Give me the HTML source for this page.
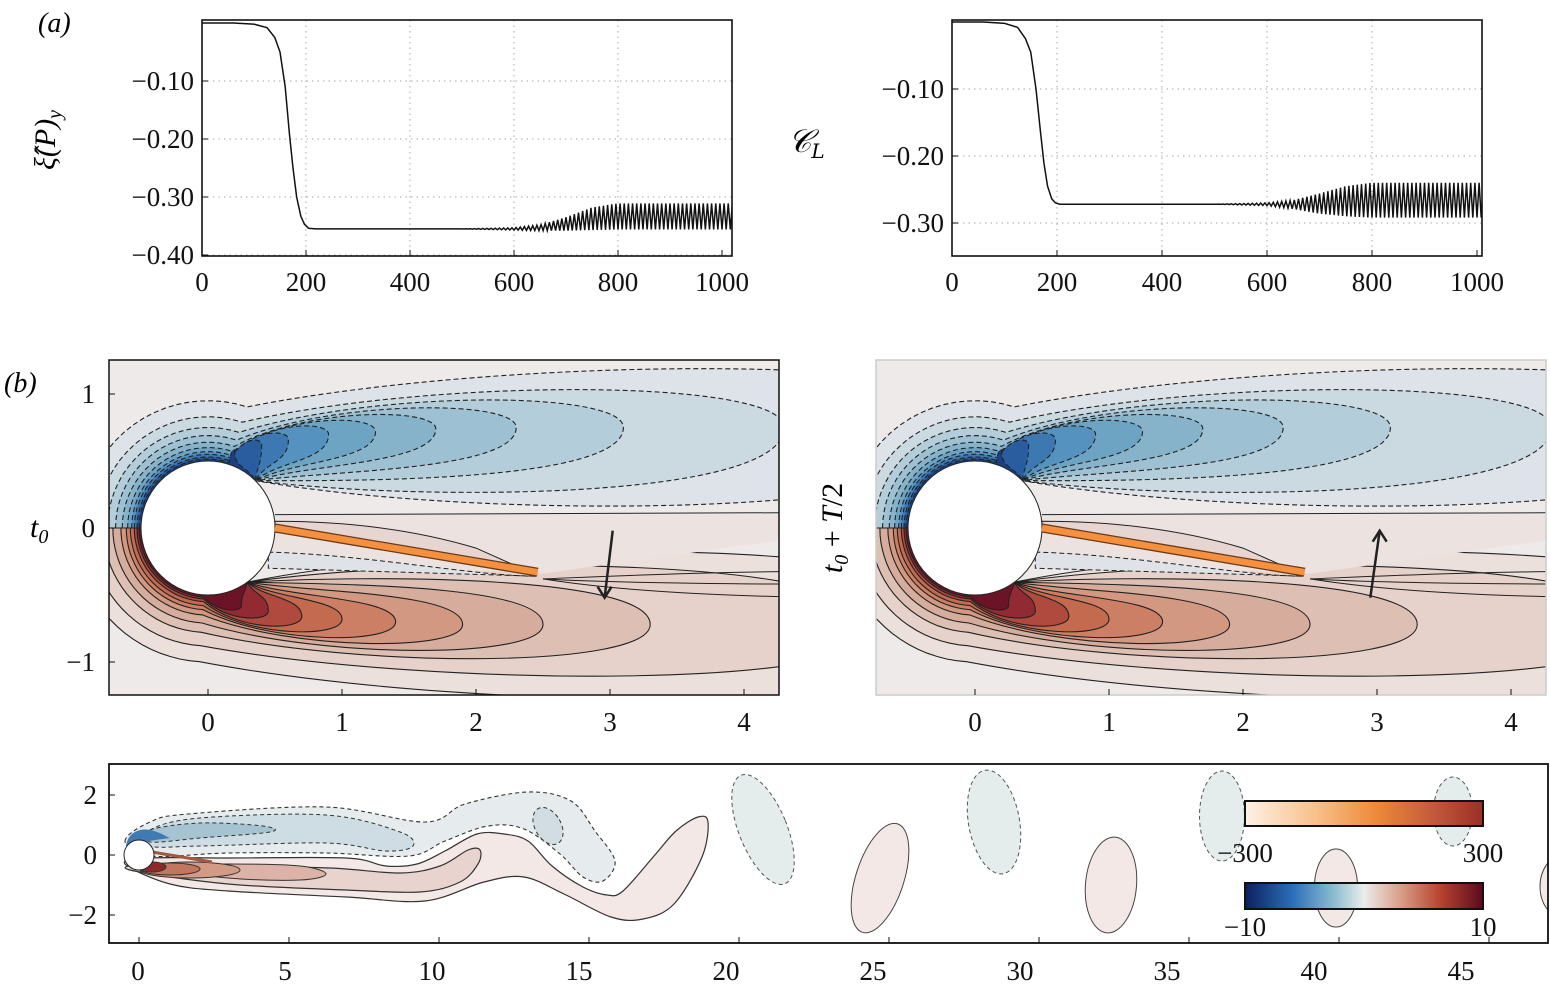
<!DOCTYPE html>
<html><head><meta charset="utf-8"><style>
html,body{margin:0;padding:0;background:#fff;}
svg{display:block;font-family:"Liberation Serif",serif;}
.tick{font-size:27px;fill:#111;}
</style></head><body>
<svg id="fig" width="1550" height="988" viewBox="0 0 1550 988" xmlns="http://www.w3.org/2000/svg">
<defs>
<clipPath id="clipBL"><rect x="109" y="360" width="670" height="335"/></clipPath>
<clipPath id="clipBR"><rect x="876" y="360" width="670" height="335"/></clipPath>
<clipPath id="clipW"><rect x="109" y="764" width="1439" height="179"/></clipPath>
<clipPath id="clipA1"><rect x="202" y="20" width="530" height="236"/></clipPath>
<clipPath id="clipA2"><rect x="952" y="20" width="530" height="236"/></clipPath>
<linearGradient id="cbOrange" x1="0" x2="1"><stop offset="0" stop-color="#fdf1e6"/><stop offset="0.3" stop-color="#f8c08a"/><stop offset="0.55" stop-color="#ee8a3a"/><stop offset="0.8" stop-color="#c1583a"/><stop offset="1" stop-color="#9b2f25"/></linearGradient>
<linearGradient id="cbDiv" x1="0" x2="1"><stop offset="0" stop-color="#0d1f5e"/><stop offset="0.2" stop-color="#2a6fb8"/><stop offset="0.38" stop-color="#8fbfd0"/><stop offset="0.5" stop-color="#ececec"/><stop offset="0.65" stop-color="#d9a08a"/><stop offset="0.82" stop-color="#b7442f"/><stop offset="1" stop-color="#5b0a1e"/></linearGradient>
</defs>
<g id="panelA"></g>
<g id="panelB"></g>
<g id="panelW"></g>
<text x="38" y="32" font-size="28" font-style="italic">(a)</text>
<text x="4" y="392" font-size="28" font-style="italic">(b)</text>
<text transform="translate(55,140) rotate(-90)" text-anchor="middle" font-size="30" font-style="italic">ξ̂(P)<tspan font-size="20" dy="6">y</tspan></text>
<text x="788" y="152" font-size="32" font-style="italic" font-family="DejaVu Serif, serif">𝒞<tspan font-size="20" dy="6">L</tspan></text>
<text x="30" y="537" font-size="30" font-style="italic">t<tspan font-size="20" dy="6">0</tspan></text>
<text transform="translate(842,528) rotate(-90)" text-anchor="middle" font-size="30" font-style="italic">t<tspan font-size="20" dy="6">0</tspan><tspan dy="-6" font-style="normal"> + </tspan>T<tspan font-style="normal">/2</tspan></text>
</svg>
<script>
// ---------- Panel (a) data ----------
const dropT = [0, 60, 100, 125, 140, 150, 160, 168, 175, 182, 190, 197, 205, 220, 600];
const dropXi = [0, 0, -0.002, -0.008, -0.025, -0.05, -0.11, -0.19, -0.25, -0.3, -0.333, -0.347, -0.354, -0.355, -0.355];
const dropCl = [0, 0, -0.002, -0.008, -0.025, -0.045, -0.1, -0.16, -0.21, -0.245, -0.264, -0.27, -0.272, -0.272, -0.272];
const envT = [500, 600, 650, 700, 750, 800, 850, 900, 1000];
const xiHi = [-0.355, -0.353, -0.348, -0.335, -0.318, -0.311, -0.311, -0.311, -0.311];
const xiLo = [-0.355, -0.357, -0.358, -0.358, -0.357, -0.356, -0.356, -0.356, -0.356];
const clHi = [-0.272, -0.27, -0.266, -0.256, -0.245, -0.24, -0.24, -0.24, -0.24];
const clLo = [-0.272, -0.274, -0.279, -0.286, -0.29, -0.292, -0.292, -0.292, -0.292];
const xTicksA = [0, 200, 400, 600, 800, 1000];
const yTicksXi = [-0.10, -0.20, -0.30, -0.40];
const yTicksCl = [-0.10, -0.20, -0.30];
const oscPeriod = 8;

const NS = "http://www.w3.org/2000/svg";
function mk(tag, attrs, parent) {
  const e = document.createElementNS(NS, tag);
  for (const k in attrs) e.setAttribute(k, attrs[k]);
  if (parent) parent.appendChild(e);
  return e;
}
function interp(xs, ys, x) {
  if (x <= xs[0]) return ys[0];
  for (let i = 1; i < xs.length; i++) if (x <= xs[i]) {
    const f = (x - xs[i-1]) / (xs[i] - xs[i-1]);
    return ys[i-1] + f * (ys[i] - ys[i-1]);
  }
  return ys[ys.length - 1];
}
function fmt(v) { return "\u2212" + Math.abs(v).toFixed(2); }
function smooth(pts) {
  const n = pts.length;
  let d = "M" + pts[0][0] + "," + pts[0][1];
  for (let i = 0; i < n; i++) {
    const p0 = pts[(i - 1 + n) % n], p1 = pts[i], p2 = pts[(i + 1) % n], p3 = pts[(i + 2) % n];
    const c1 = [p1[0] + (p2[0] - p0[0]) / 6, p1[1] + (p2[1] - p0[1]) / 6];
    const c2 = [p2[0] - (p3[0] - p1[0]) / 6, p2[1] - (p3[1] - p1[1]) / 6];
    d += "C" + c1[0].toFixed(1) + "," + c1[1].toFixed(1) + " " + c2[0].toFixed(1) + "," + c2[1].toFixed(1) + " " + p2[0] + "," + p2[1];
  }
  return d + "Z";
}

function drawA(g, box, clip, x0px, pxPer200, y0px, pxPerTenth, yTicks, drop, hi, lo, name) {
  const X = t => x0px + t / 200 * pxPer200;
  const Y = v => y0px - v / 0.1 * pxPerTenth;
  const grp = mk("g", {}, g);
  
  
  xTicksA.forEach(t => {
    if (t > 0 && t < 1000) {
      const l = mk("line", {x1: X(t), x2: X(t), y1: box.y, y2: box.y + box.h, stroke: "#aaa", "stroke-width": 1, "stroke-dasharray": "1.5 4"}, grp);
      
      
    }
  });
  yTicks.forEach(v => {
    const l = mk("line", {x1: box.x, x2: box.x + box.w, y1: Y(v), y2: Y(v), stroke: "#aaa", "stroke-width": 1, "stroke-dasharray": "1.5 4"}, grp);
    
    
  });
  let d = "";
  for (let t = 0; t <= 500; t += 1) {
    d += (t ? "L" : "M") + X(t).toFixed(2) + "," + Y(interp(dropT, drop, t)).toFixed(2);
  }
  let k = 0;
  for (let t = 500; t <= 1030; t += oscPeriod / 2, k++) {
    const v = (k % 2 === 0) ? interp(envT, hi, t) : interp(envT, lo, t);
    d += "L" + X(t).toFixed(2) + "," + Y(v).toFixed(2);
  }
  const p = mk("path", {d: d, fill: "none", stroke: "#111", "stroke-width": 1.5, "clip-path": "url(#" + clip + ")"}, grp);
  
  
  const r = mk("rect", {x: box.x, y: box.y, width: box.w, height: box.h, fill: "none", stroke: "#111", "stroke-width": 1.6}, grp);
  
  
  xTicksA.forEach(t => {
    mk("line", {x1: X(t), x2: X(t), y1: box.y + box.h, y2: box.y + box.h - 6, stroke: "#111"}, grp);
    const tx = mk("text", {x: X(t), y: box.y + box.h + 35, "text-anchor": "middle", class: "tick"}, grp);
    tx.textContent = t;
    
    
  });
  yTicks.forEach(v => {
    mk("line", {x1: box.x, x2: box.x + 6, y1: Y(v), y2: Y(v), stroke: "#111"}, grp);
    const tx = mk("text", {x: box.x - 8, y: Y(v) + 9, "text-anchor": "end", class: "tick"}, grp);
    tx.textContent = fmt(v);
    
    
  });
}
const gA = document.getElementById("panelA");
drawA(gA, {x: 202, y: 20, w: 530, h: 236}, "clipA1", 202, 104, 23, 58, yTicksXi, dropXi, xiHi, xiLo, "xi-time-series-plot");
drawA(gA, {x: 952, y: 20, w: 530, h: 236}, "clipA2", 952, 105, 22, 67, yTicksCl, dropCl, clHi, clLo, "lift-coefficient-plot");

// ---------- Panel (b) contour approximations (data units) ----------
const topD = [0.45, 0.33, 0.25, 0.19, 0.14, 0.10, 0.07, 0.05, 0.03, 0.015];
const topR = [6.0, 4.3, 3.1, 2.3, 1.7, 1.25, 0.9, 0.6, 0.4, 0.2];
const topYtop = [1.3, 1.12, 1.03, 0.96, 0.9, 0.85, 0.8, 0.74, 0.68, 0.6];
const topTip = [0.8, 0.75, 0.75, 0.75, 0.74, 0.72, 0.7, 0.66, 0.62, 0.56];
const topYin = [0.05, 0.2, 0.35, 0.43, 0.48, 0.5, 0.5, 0.49, 0.47, 0.45];
const topCols = ["#dde3e8", "#cbd9e1", "#b4cdda", "#9dc0d2", "#86b3ca", "#6ea4c3", "#5592bf", "#3d78b3", "#2a5ca0", "#1c3f82"];
const botD = [0.5, 0.38, 0.28, 0.21, 0.15, 0.11, 0.08, 0.05, 0.03, 0.015];
const botR = [6.0, 5.0, 3.3, 2.5, 1.9, 1.4, 1.0, 0.7, 0.45, 0.25];
const botYbot = [-1.4, -1.2, -1.05, -0.98, -0.92, -0.87, -0.82, -0.77, -0.7, -0.63];
const botTip = [-0.8, -0.75, -0.72, -0.72, -0.72, -0.7, -0.68, -0.66, -0.62, -0.58];
const botYin = [-0.05, -0.2, -0.35, -0.42, -0.48, -0.52, -0.53, -0.52, -0.5, -0.48];
const botCols = ["#ece0dc", "#e6d2cb", "#ddbfb4", "#d6ac9c", "#d39882", "#cc7f64", "#c36a4f", "#b04a3e", "#922a33", "#6b1428"];
const xTicksB = [0, 1, 2, 3, 4];
const yTicksB = [1, 0, -1];

function lobe(P, r, R, yEdge, tip, yin, sign, endAng, attachAng) {
  let d = "";
  const steps = 20;
  for (let i = 0; i <= steps; i++) {
    const a = Math.PI - (Math.PI - endAng) * i / steps;
    const p = P(r * Math.cos(a), sign * r * Math.sin(a));
    d += (i ? "L" : "M") + p[0].toFixed(1) + "," + p[1].toFixed(1);
  }
  const xe = r * Math.cos(endAng);
  const c1 = P(xe + (R - xe) * 0.35, yEdge), c2 = P(R, yEdge), e = P(R, tip);
  d += "C" + c1 + " " + c2 + " " + e;
  const xs = 0.5 * Math.cos(attachAng), ys = sign * 0.5 * Math.sin(attachAng);
  const c3 = P(R, yin), c4 = P(xs + (R - xs) * 0.3, yin), e2 = P(xs, ys);
  d += "C" + c3 + " " + c4 + " " + e2;
  return d + "L" + P(0, 0) + "Z";
}
function drawB(g, ox, box, clip, plateSign, name) {
  const S = 134, oy = 528;
  const P = (x, y) => [+(ox + x * S).toFixed(1), +(oy - y * S).toFixed(1)];
  const grp = mk("g", {}, g);
  
  
  const inner = mk("g", {"clip-path": "url(#" + clip + ")"}, grp);
  const bg = mk("rect", {x: box.x, y: box.y, width: box.w, height: box.h, fill: "#eeeaea"}, inner);
  
  
  for (let i = 0; i < topD.length; i++) {
    const p = mk("path", {d: lobe(P, 0.5 + topD[i], topR[i], topYtop[i], topTip[i], topYin[i], 1, Math.PI * 0.4, Math.PI * 0.25), fill: topCols[i], stroke: "#222", "stroke-width": 1.1, "stroke-dasharray": "5 3"}, inner);
    
    
  }
  for (let i = 0; i < botD.length; i++) {
    const p = mk("path", {d: lobe(P, 0.5 + botD[i], botR[i], botYbot[i], botTip[i], botYin[i], -1, Math.PI * 0.52, Math.PI * 0.3), fill: botCols[i], stroke: "#222", "stroke-width": 1.1}, inner);
    
    
  }
  const wake = mk("path", {d: "M" + P(0.4, 0.1) + "L" + P(6, 0.1) + "L" + P(6, -0.1) + "L" + P(4.5, -0.06) + "L" + P(2.5, -0.34) + "L" + P(0.4, -0.25) + "Z", fill: "#ece3e1"}, inner);
  
  
  mk("path", {d: "M" + P(0.5, -0.03) + "C" + P(1.3, -0.1) + " " + P(2.0, -0.28) + " " + P(2.45, -0.35) + "L" + P(2.0, -0.15) + "C" + P(1.5, 0.0) + " " + P(1, 0.05) + " " + P(0.5, 0.05) + "Z", fill: "#e6d5d0", stroke: "#222", "stroke-width": 1}, inner);
  mk("path", {d: "M" + P(0.45, -0.18) + "C" + P(1.2, -0.2) + " " + P(2.0, -0.36) + " " + P(2.45, -0.36) + "L" + P(0.45, -0.3) + "Z", fill: "#dfe3e8", stroke: "#222", "stroke-width": 1, "stroke-dasharray": "5 3"}, inner);
  mk("path", {d: "M" + P(0.5, 0.1) + "L" + P(6, 0.12), fill: "none", stroke: "#222", "stroke-width": 1}, inner);
  [0.12, 0.22, 0.32].forEach(dy => {
    mk("path", {d: "M" + P(2.5, -0.38) + "C" + P(3, -0.3 - dy * 0.5) + " " + P(3.8, -0.2 - dy) + " " + P(5, -0.2 - dy), fill: "none", stroke: "#222", "stroke-width": 1}, inner);
  });
  const cyl = mk("circle", {cx: ox, cy: oy, r: 0.5 * S, fill: "#fff", stroke: "#222", "stroke-width": 1}, inner);
  
  
  const a0 = P(0.5, 0.0), a1 = P(2.46, -0.33);
  mk("line", {x1: a0[0], y1: a0[1], x2: a1[0], y2: a1[1], stroke: "#6a3a1a", "stroke-width": 9}, inner);
  const pl = mk("line", {x1: a0[0], y1: a0[1], x2: a1[0], y2: a1[1], stroke: "#f5903f", "stroke-width": 6.5}, inner);
  
  
  const s = plateSign < 0 ? [P(3.02, -0.02), P(2.96, -0.52)] : [P(2.95, -0.52), P(3.02, -0.02)];
  const ar = mk("line", {x1: s[0][0], y1: s[0][1], x2: s[1][0], y2: s[1][1], stroke: "#222", "stroke-width": 2.5}, inner);
  
  
  const dir = plateSign < 0 ? -1 : 1;
  mk("path", {d: "M" + (s[1][0] - 7) + "," + (s[1][1] + dir * 11) + "L" + s[1][0] + "," + s[1][1] + "L" + (s[1][0] + 7) + "," + (s[1][1] + dir * 11), fill: "none", stroke: "#222", "stroke-width": 2.5}, inner);
  const fr = mk("rect", {x: box.x, y: box.y, width: box.w, height: box.h, fill: "none", stroke: box.frame, "stroke-width": 1.5}, grp);
  
  
  xTicksB.forEach(t => {
    const x = ox + t * S;
    mk("line", {x1: x, x2: x, y1: box.y + box.h, y2: box.y + box.h - 6, stroke: "#111"}, grp);
    const tx = mk("text", {x: x, y: box.y + box.h + 36, "text-anchor": "middle", class: "tick"}, grp);
    tx.textContent = t;
    
    
  });
  if (box.yLabels) yTicksB.forEach(v => {
    const y = oy - v * S;
    mk("line", {x1: box.x, x2: box.x + 6, y1: y, y2: y, stroke: "#111"}, grp);
    const tx = mk("text", {x: box.x - 14, y: y + 9, "text-anchor": "end", class: "tick"}, grp);
    tx.textContent = v < 0 ? "\u2212" + Math.abs(v) : v;
    
    
  });
}
const gB = document.getElementById("panelB");
drawB(gB, 208, {x: 109, y: 360, w: 670, h: 335, frame: "#111", yLabels: true}, "clipBL", -1, "vorticity-snapshot-t0");
drawB(gB, 975, {x: 876, y: 360, w: 670, h: 335, frame: "#ccc", yLabels: false}, "clipBR", 1, "vorticity-snapshot-t0-half-period");

// ---------- Bottom wake panel ----------
const wX0 = 139, wY0 = 855, wS = 30, wLabelS = 29.4;
const xTicksW = [0, 5, 10, 15, 20, 25, 30, 35, 40, 45];
const yTicksW = [2, 0, -2];
const vortBlueX = [20.8, 28.5, 36.1, 43.8];
const vortBlueY = [0.85, 1.1, 1.3, 1.45];
const vortBlueRx = [0.8, 0.85, 0.75, 0.65];
const vortBlueRy = [1.95, 1.75, 1.5, 1.15];
const vortBlueRot = [-22, -10, 0, 0];
const vortRedX = [24.7, 32.4, 39.9, 47.4];
const vortRedY = [-0.77, -1.0, -1.1, -1.05];
const vortRedRx = [0.8, 0.85, 0.72, 0.7];
const vortRedRy = [1.9, 1.6, 1.3, 1.0];
const vortRedRot = [18, 5, 0, 0];

(function drawW() {
  const g = document.getElementById("panelW");
  const grp = mk("g", {"clip-path": "url(#clipW)"}, g);
  
  
  const X = v => wX0 + v * wS, Y = v => wY0 - v * wS;
  for (let i = 0; i < vortBlueX.length; i++) {
    const e = mk("ellipse", {cx: X(vortBlueX[i]), cy: Y(vortBlueY[i]), rx: vortBlueRx[i] * wS, ry: vortBlueRy[i] * wS, transform: "rotate(" + vortBlueRot[i] + " " + X(vortBlueX[i]) + " " + Y(vortBlueY[i]) + ")", fill: "#e5ecec", stroke: "#555", "stroke-width": 1, "stroke-dasharray": "4 3"}, grp);
    
    
  }
  for (let i = 0; i < vortRedX.length; i++) {
    const e = mk("ellipse", {cx: X(vortRedX[i]), cy: Y(vortRedY[i]), rx: vortRedRx[i] * wS, ry: vortRedRy[i] * wS, transform: "rotate(" + vortRedRot[i] + " " + X(vortRedX[i]) + " " + Y(vortRedY[i]) + ")", fill: "#f3e8e5", stroke: "#444", "stroke-width": 1}, grp);
    
    
  }
  const blueOuter = [[125,841],[150,822],[188,814],[326,807],[425,822],[465,804],[528,792],[571,801],[595,831],[615,861],[603,881],[583,877],[560,854],[524,829],[488,826],[445,841],[409,856],[326,853],[228,853],[150,856]];
  const p3 = mk("path", {d: smooth(blueOuter), fill: "#e6eced", stroke: "#333", "stroke-width": 1.1, "stroke-dasharray": "4 3"}, grp);
  
  
  const blueMid = [[150,830],[200,818],[326,815],[400,832],[413,846],[386,851],[326,843],[200,846],[150,846]];
  mk("path", {d: smooth(blueMid), fill: "#cddde3", stroke: "#333", "stroke-width": 1, "stroke-dasharray": "4 3"}, grp);
  const blueIn = [[150,830],[200,823],[263,826],[270,832],[200,838],[150,842]];
  mk("path", {d: smooth(blueIn), fill: "#a6c3d1", stroke: "#333", "stroke-width": 1, "stroke-dasharray": "4 3"}, grp);
  mk("path", {d: "M126,846 C128,832 140,828 150,830 C160,832 165,836 170,838 C155,840 140,842 126,846Z", fill: "#3f7ab5"}, grp);
  mk("ellipse", {cx: 548, cy: 826, rx: 13, ry: 20, transform: "rotate(-30 548 826)", fill: "#d1dde3", stroke: "#333", "stroke-width": 1, "stroke-dasharray": "4 3"}, grp);
  const redOuter = [[125,864],[170,884],[228,891],[346,897],[425,901],[484,882],[524,877],[564,894],[611,917],[643,919],[674,904],[702,857],[708,822],[698,817],[676,831],[654,856],[623,891],[607,895],[583,887],[552,866],[528,841],[504,834],[477,834],[445,851],[417,864],[386,866],[346,858],[228,858],[149,858]];
  const p1 = mk("path", {d: smooth(redOuter), fill: "#f3e8e5", stroke: "#333", "stroke-width": 1.2}, grp);
  
  
  const redMid = [[130,870],[228,884],[346,890],[420,892],[460,882],[478,864],[480,850],[468,850],[440,866],[400,873],[330,868],[228,866],[149,864]];
  const p2 = mk("path", {d: smooth(redMid), fill: "#e8d3ce", stroke: "#333", "stroke-width": 1.2}, grp);
  
  
  const redIn = [[140,866],[228,878],[300,880],[326,874],[300,866],[228,864]];
  mk("path", {d: smooth(redIn), fill: "#dcb3a6", stroke: "#333", "stroke-width": 1}, grp);
  [[190, 870, 50, 8, "#d39a86"], [170, 869, 30, 6, "#c2765e"], [152, 867, 14, 5, "#8c2a2a"]].forEach(c => {
    mk("ellipse", {cx: c[0], cy: c[1], rx: c[2], ry: c[3], fill: c[4], stroke: "#333", "stroke-width": 1}, grp);
  });
  mk("line", {x1: 152, y1: 852, x2: 212, y2: 862, stroke: "#a05a40", "stroke-width": 3}, grp);
  const cyl = mk("circle", {cx: X(0), cy: Y(0), r: 15, fill: "#fff", stroke: "#222", "stroke-width": 1}, grp);
  
  
  const cb1 = mk("rect", {x: 1245, y: 801, width: 238, height: 25, fill: "url(#cbOrange)", stroke: "#111", "stroke-width": 2}, g);
  
  
  const cb2 = mk("rect", {x: 1245, y: 883, width: 238, height: 26, fill: "url(#cbDiv)", stroke: "#111", "stroke-width": 2}, g);
  
  
  [["\u2212300", 1245, 862], ["300", 1483, 862], ["\u221210", 1245, 936], ["10", 1483, 936]].forEach(l => {
    const t = mk("text", {x: l[1], y: l[2], "text-anchor": "middle", class: "tick"}, g);
    t.textContent = l[0];
    
    
  });
  const fr = mk("rect", {x: 109, y: 764, width: 1439, height: 179, fill: "none", stroke: "#111", "stroke-width": 1.8}, g);
  
  
  xTicksW.forEach(t => {
    mk("line", {x1: X(t), x2: X(t), y1: 943, y2: 937, stroke: "#111"}, g);
    const tx = mk("text", {x: 138 + t * wLabelS, y: 980, "text-anchor": "middle", class: "tick"}, g);
    tx.textContent = t;
    
    
  });
  yTicksW.forEach(v => {
    mk("line", {x1: 109, x2: 115, y1: Y(v), y2: Y(v), stroke: "#111"}, g);
    const tx = mk("text", {x: 97, y: Y(v) + 9, "text-anchor": "end", class: "tick"}, g);
    tx.textContent = v < 0 ? "\u2212" + Math.abs(v) : v;
    
    
  });
})();
</script>
</body></html>
